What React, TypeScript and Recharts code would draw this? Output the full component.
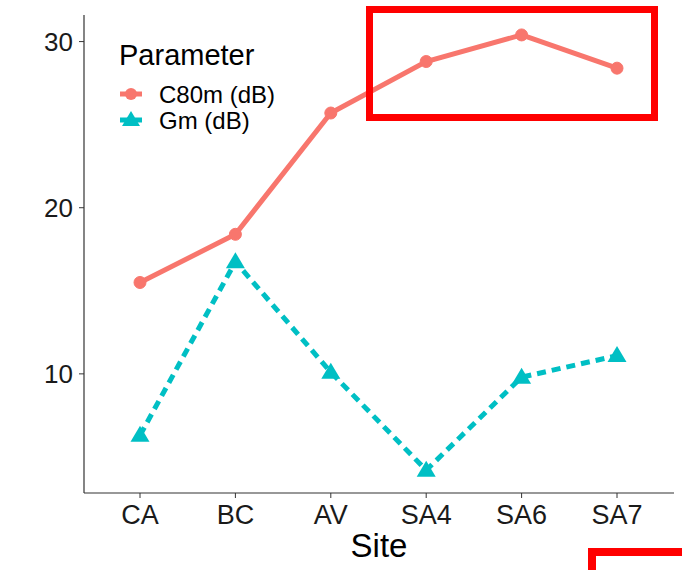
import React from 'react';
import { LineChart, Line, XAxis, YAxis, Legend } from 'recharts';

const sites = ['CA', 'BC', 'AV', 'SA4', 'SA6', 'SA7'];
const c80m = [15.5, 18.4, 25.7, 28.8, 30.4, 28.4];
const gm = [6.3, 16.75, 10.1, 4.2, 9.8, 11.1];
const yTicks = [10, 20, 30];

const data = sites.map((site, i) => ({ site, c80m: c80m[i], gm: gm[i] }));

const RED = '#F8766D';
const TEAL = '#00BFC4';
const FONT = '"Liberation Sans", Arial, sans-serif';

const Triangle = (props: any) => {
  const { cx, cy } = props;
  if (cx == null || cy == null) return null;
  return <polygon points={`${cx},${cy - 9.5} ${cx - 9.5},${cy + 6.5} ${cx + 9.5},${cy + 6.5}`} fill={TEAL} />;
};

const LegendBox = () => (
  <svg width={200} height={110} style={{ fontFamily: FONT, display: 'block' }}>
    <text x={9} y={35} fontSize={29} fill="#000">Parameter</text>
    <line x1={10} y1={64} x2={32} y2={64} stroke={RED} strokeWidth={5} />
    <circle cx={21} cy={64} r={6} fill={RED} />
    <text x={49} y={73} fontSize={24} fill="#000">C80m (dB)</text>
    <line x1={10} y1={90} x2={32} y2={90} stroke={TEAL} strokeWidth={5} strokeDasharray="9 6" />
    <polygon points="21,81 12,96 30,96" fill={TEAL} />
    <text x={49} y={99} fontSize={24} fill="#000">Gm (dB)</text>
  </svg>
);

export default function App() {
  return (
    <div style={{ position: 'fixed', left: 0, top: 0, width: 682, height: 570, background: '#fff', fontFamily: FONT }}>
      <LineChart width={682} height={570} data={data} margin={{ top: 15, right: 8, left: 0, bottom: 0 }}>
        <XAxis
          dataKey="site"
          height={77}
          padding={{ left: 56, right: 57 }}
          axisLine={{ stroke: '#333', strokeWidth: 1.2 }}
          tickLine={{ stroke: '#333' }}
          tickSize={5}
          tickMargin={7}
          tick={{ fontSize: 27, fill: '#1a1a1a', fontFamily: FONT }}
          label={{ value: 'Site', position: 'insideBottom', offset: 13, fontSize: 33, fill: '#000', fontFamily: FONT }}
        />
        <YAxis
          width={84}
          domain={[2.83, 31.6]}
          ticks={yTicks}
          allowDataOverflow
          axisLine={{ stroke: '#333', strokeWidth: 1.2 }}
          tickLine={{ stroke: '#333' }}
          tickSize={5}
          tickMargin={6}
          tick={{ fontSize: 26, fill: '#1a1a1a', fontFamily: FONT }}
        />
        <Legend
          layout="vertical"
          align="center"
          verticalAlign="middle"
          wrapperStyle={{ left: 110, top: 30, width: 200, height: 110 }}
          content={() => <LegendBox />}
        />
        <Line
          type="linear"
          dataKey="c80m"
          name="C80m (dB)"
          stroke={RED}
          strokeWidth={5}
          dot={{ r: 6, fill: RED, stroke: RED, strokeWidth: 1 }}
          activeDot={false}
          isAnimationActive={false}
        />
        <Line
          type="linear"
          dataKey="gm"
          name="Gm (dB)"
          stroke={TEAL}
          strokeWidth={5}
          strokeDasharray="9 6"
          dot={<Triangle />}
          activeDot={false}
          isAnimationActive={false}
        />
      </LineChart>
      <svg width={682} height={570} style={{ position: 'absolute', left: 0, top: 0, pointerEvents: 'none' }}>
        <rect x={369.5} y={9.5} width={285} height={108} fill="none" stroke="#FF0000" strokeWidth={7} />
        <path d="M 592 574 L 592 552 L 690 552" fill="none" stroke="#FF0000" strokeWidth={8} />
      </svg>
    </div>
  );
}
